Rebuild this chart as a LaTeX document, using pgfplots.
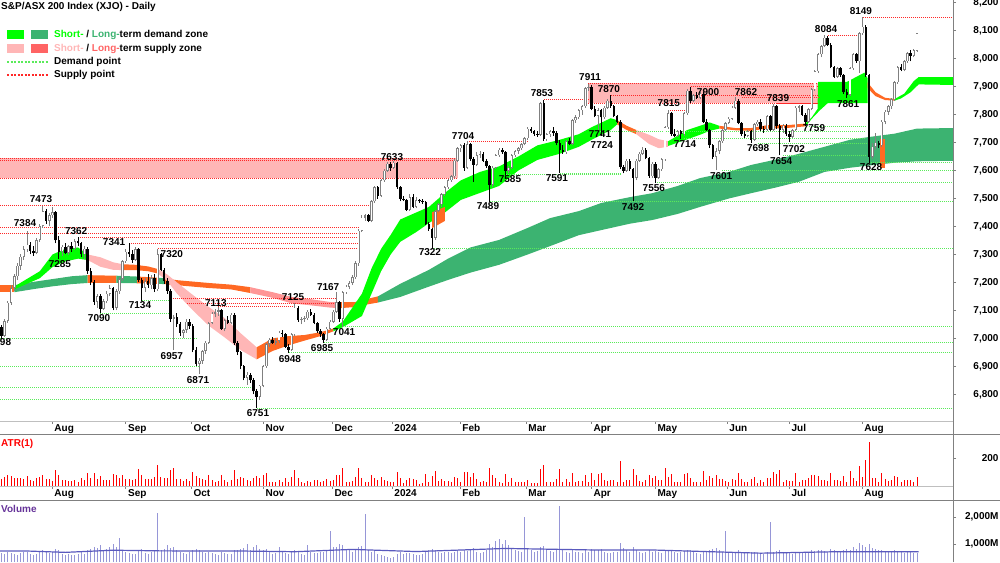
\documentclass[border=0pt]{standalone}
\usepackage{pgfplots}
\pgfplotsset{compat=1.18}
\usepackage{pgfplotstable}
\usepackage{fontspec}
\setmainfont{Liberation Sans}
\definecolor{stLime}{RGB}{0,255,0}
\definecolor{ltGreen}{RGB}{60,179,113}
\definecolor{stPink}{RGB}{255,182,182}
\definecolor{ltRed}{RGB}{255,100,100}
\definecolor{bOrange}{RGB}{255,105,35}
\definecolor{bSalmon}{RGB}{255,150,150}
\definecolor{dLine}{RGB}{90,235,90}
\definecolor{sLine}{RGB}{255,40,40}
\definecolor{upGray}{RGB}{128,128,128}
\definecolor{volBar}{RGB}{150,150,215}
\definecolor{volAvg}{RGB}{90,90,190}
\definecolor{volText}{RGB}{102,51,153}

\pgfplotstableread{
i O H L C V
0 7040 7048 6998 7008 650
1 7010 7070 7005 7062 620
2 7062 7135 7055 7128 700
3 7128 7190 7120 7180 680
4 7180 7230 7170 7222 640
5 7222 7268 7210 7260 600
6 7260 7300 7245 7292 660
7 7292 7330 7280 7318 710
8 7318 7384 7310 7335 690
9 7335 7345 7300 7312 620
10 7312 7330 7295 7305 580
11 7305 7360 7300 7352 640
12 7352 7410 7345 7402 720
13 7402 7473 7395 7455 760
14 7455 7462 7410 7420 700
15 7420 7448 7400 7440 650
16 7440 7468 7430 7450 720
17 7450 7455 7340 7350 800
18 7350 7365 7285 7310 760
19 7310 7335 7295 7328 640
20 7328 7340 7300 7305 600
21 7305 7335 7298 7330 620
22 7330 7345 7310 7320 580
23 7320 7355 7315 7348 600
24 7348 7362 7330 7340 640
25 7340 7345 7290 7300 700
26 7300 7330 7285 7320 620
27 7320 7325 7230 7240 780
28 7240 7250 7190 7200 820
29 7200 7210 7120 7130 900
30 7130 7160 7110 7150 850
31 7150 7160 7090 7105 960
32 7105 7140 7100 7132 780
33 7132 7170 7125 7160 820
34 7160 7190 7150 7180 900
35 7180 7185 7100 7110 1000
36 7110 7175 7100 7168 880
37 7168 7220 7160 7212 1220
38 7212 7280 7205 7275 760
39 7275 7320 7270 7310 700
40 7310 7341 7290 7300 680
41 7300 7315 7270 7280 640
42 7280 7325 7275 7318 620
43 7318 7322 7200 7210 740
44 7210 7215 7134 7180 800
45 7180 7215 7165 7205 660
46 7205 7230 7180 7190 620
47 7190 7225 7175 7215 700
48 7215 7230 7165 7175 760
49 7175 7320 7170 7300 2150
50 7300 7305 7240 7245 780
51 7245 7250 7195 7205 800
52 7205 7215 7160 7170 960
53 7170 7175 7060 7070 860
54 7070 7085 6957 7075 900
55 7075 7090 7040 7050 780
56 7050 7060 7010 7020 700
57 7020 7035 7000 7030 660
58 7030 7070 7020 7060 640
59 7060 7070 7035 7045 700
60 7045 7050 6950 6960 780
61 6960 6970 6900 6910 820
62 6910 6930 6871 6920 760
63 6920 6960 6910 6955 700
64 6955 6990 6945 6985 660
65 6985 7060 6980 7055 720
66 7055 7095 7050 7088 680
67 7088 7105 7075 7095 640
68 7095 7113 7080 7100 600
69 7100 7105 7030 7035 700
70 7035 7070 7025 7065 660
71 7065 7080 7050 7055 620
72 7055 7090 7050 7085 640
73 7085 7090 6975 6985 780
74 6985 6990 6940 6950 760
75 6950 6955 6890 6900 800
76 6900 6905 6850 6860 840
77 6860 6880 6835 6870 1000
78 6870 6875 6840 6850 760
79 6850 6860 6800 6810 880
80 6810 6820 6751 6790 980
81 6790 6835 6780 6830 820
82 6830 6905 6825 6900 760
83 6900 6985 6895 6980 820
84 6980 7000 6970 6995 700
85 6995 7005 6980 6985 640
86 6985 7000 6975 6992 660
87 6992 7025 6985 7020 900
88 7020 7030 7005 7015 700
89 7015 7020 6965 6970 660
90 6970 6980 6948 6960 620
91 6960 7020 6955 7015 700
92 7015 7125 7010 7110 780
93 7110 7115 7060 7065 720
94 7065 7075 7050 7068 640
95 7068 7080 7060 7072 600
96 7072 7100 7065 7095 960
97 7095 7105 7080 7085 700
98 7085 7090 7050 7055 660
99 7055 7060 7020 7025 680
100 7025 7035 7005 7015 700
101 7015 7020 6985 6995 720
102 6995 7040 6990 7035 760
103 7035 7065 7030 7060 1480
104 7060 7100 7055 7095 880
105 7095 7167 7090 7130 900
106 7130 7135 7060 7070 1000
107 7070 7170 7041 7165 980
108 7165 7190 7160 7185 820
109 7185 7205 7175 7198 760
110 7198 7225 7190 7218 700
111 7218 7275 7212 7268 800
112 7268 7390 7260 7385 880
113 7385 7440 7380 7432 920
114 7432 7445 7420 7440 2100
115 7440 7445 7415 7420 760
116 7420 7495 7415 7490 720
117 7490 7545 7485 7540 780
118 7540 7545 7500 7510 640
119 7510 7570 7505 7565 600
120 7565 7605 7560 7600 560
121 7600 7630 7595 7625 520
122 7625 7630 7600 7610 480
123 7610 7633 7605 7628 500
124 7628 7632 7535 7540 640
125 7540 7545 7490 7500 700
126 7500 7510 7490 7495 620
127 7495 7500 7455 7460 680
128 7460 7515 7455 7505 660
129 7505 7515 7465 7470 640
130 7470 7505 7465 7495 600
131 7495 7500 7485 7490 580
132 7490 7500 7480 7488 620
133 7488 7490 7405 7410 720
134 7410 7415 7385 7390 760
135 7390 7395 7322 7360 820
136 7360 7460 7352 7455 780
137 7455 7485 7450 7480 700
138 7480 7520 7470 7515 680
139 7515 7545 7510 7540 720
140 7540 7570 7535 7565 700
141 7565 7585 7560 7580 660
142 7580 7640 7575 7635 700
143 7635 7685 7630 7680 760
144 7680 7695 7665 7690 720
145 7690 7700 7600 7610 780
146 7610 7704 7605 7695 740
147 7695 7700 7635 7640 800
148 7640 7650 7560 7620 860
149 7620 7665 7615 7655 700
150 7655 7670 7645 7660 680
151 7660 7665 7630 7635 720
152 7635 7640 7610 7615 760
153 7615 7620 7489 7550 1000
154 7550 7615 7540 7610 900
155 7610 7660 7605 7655 1100
156 7655 7680 7650 7675 1200
157 7675 7680 7660 7665 1000
158 7665 7670 7585 7600 1150
159 7600 7615 7590 7610 980
160 7610 7660 7605 7655 820
161 7655 7675 7650 7670 760
162 7670 7685 7660 7680 740
163 7680 7700 7675 7695 720
164 7695 7720 7690 7715 2000
165 7715 7755 7710 7750 800
166 7750 7755 7735 7740 760
167 7740 7745 7725 7730 720
168 7730 7740 7720 7728 740
169 7728 7845 7725 7840 880
170 7840 7853 7705 7712 920
171 7712 7735 7705 7730 780
172 7730 7745 7720 7740 740
173 7740 7755 7725 7735 720
174 7735 7740 7690 7700 780
175 7700 7710 7591 7675 2400
176 7675 7690 7660 7665 760
177 7665 7710 7660 7705 700
178 7705 7715 7690 7695 680
179 7695 7785 7690 7780 760
180 7780 7800 7770 7790 720
181 7790 7820 7785 7815 700
182 7815 7835 7800 7830 680
183 7830 7900 7825 7895 760
184 7895 7911 7885 7900 720
185 7900 7905 7815 7820 800
186 7820 7830 7790 7795 760
187 7795 7825 7741 7815 780
188 7815 7820 7724 7790 820
189 7790 7830 7785 7825 700
190 7825 7855 7820 7850 680
191 7850 7870 7825 7830 660
192 7830 7835 7790 7795 700
193 7795 7800 7770 7775 720
194 7775 7780 7605 7612 1030
195 7612 7620 7590 7600 860
196 7600 7640 7595 7635 760
197 7635 7640 7600 7605 720
198 7605 7610 7492 7575 880
199 7575 7640 7565 7635 780
200 7635 7665 7630 7660 700
201 7660 7685 7655 7675 680
202 7675 7680 7640 7645 700
203 7645 7650 7575 7580 760
204 7580 7630 7575 7625 720
205 7625 7630 7556 7575 740
206 7575 7610 7570 7605 700
207 7605 7645 7600 7640 680
208 7640 7760 7635 7755 760
209 7755 7815 7750 7805 740
210 7805 7810 7725 7730 780
211 7730 7750 7720 7725 720
212 7725 7745 7720 7740 680
213 7740 7745 7714 7730 700
214 7730 7810 7725 7805 740
215 7805 7890 7800 7885 760
216 7885 7900 7840 7850 780
217 7850 7875 7845 7870 700
218 7870 7880 7855 7860 660
219 7860 7880 7855 7875 640
220 7875 7880 7770 7775 720
221 7775 7785 7740 7745 740
222 7745 7750 7680 7690 780
223 7690 7695 7640 7650 800
224 7650 7680 7601 7670 860
225 7670 7710 7660 7705 760
226 7705 7750 7700 7745 720
227 7745 7775 7740 7770 1480
228 7770 7790 7765 7785 700
229 7785 7830 7780 7825 680
230 7825 7862 7820 7850 700
231 7850 7855 7765 7770 760
232 7770 7775 7725 7730 720
233 7730 7740 7715 7725 680
234 7725 7745 7720 7740 660
235 7740 7745 7698 7710 700
236 7710 7770 7705 7765 720
237 7765 7780 7760 7775 680
238 7775 7785 7740 7750 660
239 7750 7760 7735 7745 640
240 7745 7800 7740 7795 700
241 7795 7800 7740 7745 1800
242 7745 7839 7740 7830 720
243 7830 7835 7750 7760 740
244 7760 7765 7654 7745 780
245 7745 7765 7735 7760 700
246 7760 7765 7725 7730 680
247 7730 7740 7702 7720 660
248 7720 7750 7715 7745 640
249 7745 7830 7740 7825 700
250 7825 7835 7810 7830 680
251 7830 7835 7795 7800 660
252 7800 7805 7759 7775 700
253 7775 7825 7770 7820 720
254 7820 7895 7815 7890 760
255 7890 7960 7885 7955 740
256 7955 8020 7950 8015 780
257 8015 8050 8005 8045 760
258 8045 8084 8040 8075 740
259 8075 8080 8045 8050 720
260 8050 8055 7965 7970 800
261 7970 7975 7930 7935 760
262 7935 7970 7930 7965 720
263 7965 7970 7935 7940 740
264 7940 7945 7875 7880 780
265 7880 7890 7861 7870 800
266 7870 7970 7865 7965 760
267 7965 8020 7960 8015 900
268 8015 8020 7985 7990 820
269 7990 8095 7950 8090 1040
270 8090 8149 8085 8115 960
271 8115 8120 7935 7943 900
272 7943 7945 7628 7650 1000
273 7650 7700 7640 7685 860
274 7685 7735 7675 7700 820
275 7700 7705 7680 7690 760
276 7690 7780 7685 7775 780
277 7775 7815 7765 7810 740
278 7810 7835 7800 7830 720
279 7830 7860 7820 7855 700
280 7855 7920 7850 7915 760
281 7915 7975 7910 7970 740
282 7970 7980 7955 7960 700
283 7960 7995 7955 7990 680
284 7990 8025 7985 8020 720
285 8020 8030 7990 8010 700
286 8010 8035 8005 8030 680
287 8028 8092 8025 8090 660
}\data

\newcommand{\lblfont}{\bfseries\fontsize{10}{12}\selectfont}

\begin{document}
\begin{tikzpicture}
\useasboundingbox (0pt,0pt) rectangle (1000pt,562pt);
\pgfplotsset{
  every axis/.append style={scale only axis, width=953pt, xmin=-0.47, xmax=298.28,
    axis line style={draw=none}, tick label style={font=\lblfont},
    tick align=outside, major tick length=3pt, tick style={upGray, line width=0.6pt},
    xtick pos=left, ytick pos=right, yticklabel pos=right,
    yticklabel style={anchor=east, xshift=46pt},
    xticklabel style={anchor=north west, xshift=-1pt, yshift=3pt}},
  mtick/.style={xtick={15.8,38.9,59.4,82,103.6,122.4,143.7,164.4,184.8,204.9,227.4,246.9,269.7},
    xticklabels={Aug,Sep,Oct,Nov,Dec,2024,Feb,Mar,Apr,May,Jun,Jul,Aug}},
  sup/.style={sLine, line width=0.9pt, dash pattern=on 1pt off 1pt, mark=none, forget plot},
  dem/.style={dLine, line width=0.9pt, dash pattern=on 1pt off 1pt, mark=none, forget plot},
  band/.style={draw=none, mark=none, forget plot},
}

% ---------------- main price panel ----------------
\begin{axis}[at={(0pt,141pt)}, anchor=south west, height=421pt, ymin=6704.5, ymax=8209.8, mtick,
  ytick={6800,6900,...,8200},
  yticklabels={{6,800},{6,900},{7,000},{7,100},{7,200},{7,300},{7,400},{7,500},{7,600},{7,700},{7,800},{7,900},{8,000},{8,100},{8,200}}]

% supply zones
\addplot[band, fill=stPink] coordinates {(-0.5,7573) (143,7573) (143,7644) (-0.5,7644)} -- cycle;
\addplot[band, fill=stPink] coordinates {(184,7841) (256,7841) (256,7912) (184,7912)} -- cycle;

% long-term band
\addplot[band, fill=bOrange] coordinates {(-0.5,7190) (4,7190) (4,7165) (-0.5,7165)} -- cycle;
\addplot[band, fill=ltGreen] coordinates {(4,7190) (10,7202) (16,7212) (22,7222) (27,7226) (27,7198) (22,7194) (16,7186) (10,7176) (4,7165)} -- cycle;
\addplot[band, fill=bOrange] coordinates {(27,7226) (31,7225) (36,7224) (36,7198) (31,7198) (27,7198)} -- cycle;
\addplot[band, fill=ltGreen] coordinates {(36,7224) (42.5,7221) (42.5,7197) (36,7198)} -- cycle;
\addplot[band, fill=bOrange] coordinates {(42.5,7221) (49,7217) (49,7195) (42.5,7197)} -- cycle;
\addplot[band, fill=ltGreen] coordinates {(49,7217) (51,7215) (51,7194) (49,7195)} -- cycle;
\addplot[band, fill=bOrange] coordinates {(51,7215) (55,7208) (65,7198) (72,7192) (78,7183) (78,7162) (72,7175) (65,7180) (55,7190) (51,7194)} -- cycle;
\addplot[band, fill=bSalmon] coordinates {(78,7183) (85,7165) (91,7148) (97,7140) (103,7130) (106,7129) (106,7108) (103,7110) (97,7118) (91,7125) (85,7145) (78,7162)} -- cycle;
\addplot[band, fill=bOrange] coordinates {(106,7129) (111,7130) (115,7142) (118,7150) (118,7128) (115,7122) (111,7112) (106,7108)} -- cycle;
\addplot[band, fill=ltGreen] coordinates {(118,7150) (125,7195) (134,7245) (140,7285) (147,7325) (156,7352) (165,7395) (172,7430) (181,7455) (188,7484) (197,7505) (204,7519) (212,7545) (219,7573) (228,7595) (235,7620) (243,7640) (250,7660) (258,7685) (266,7710) (272,7720) (280,7732) (287,7750) (298.3,7752)
  (298.3,7635) (287,7633) (280,7628) (272,7618) (266,7610) (258,7595) (250,7560) (243,7540) (235,7519) (228,7500) (219,7470) (212,7445) (204,7423) (197,7410) (188,7387) (181,7369) (172,7330) (165,7300) (156,7263) (147,7235) (140,7209) (134,7185) (125,7148) (118,7128)} -- cycle;
\addplot[band, fill=bOrange] coordinates {(275.5,7712) (277,7712) (277,7610) (275.5,7610)} -- cycle;

% short-term band
\addplot[band, fill=stLime] coordinates {(4,7185) (12,7240) (16,7300) (20,7320) (24,7325) (27,7300) (27,7280) (24,7285) (20,7275) (16,7255) (12,7215) (4,7175)} -- cycle;
\addplot[band, fill=stPink] coordinates {(27,7300) (31,7290) (35,7272) (38,7265) (38,7244) (35,7245) (31,7256) (27,7280)} -- cycle;
\addplot[band, fill=bOrange] coordinates {(38,7265) (42,7263) (46,7257) (49,7248) (49,7232) (46,7240) (42,7244) (38,7244)} -- cycle;
\addplot[band, fill=stPink] coordinates {(49,7248) (52,7228) (55,7200) (60,7155) (65,7112) (70,7072) (75,7018) (80,6968) (80,6925) (75,6958) (70,7003) (65,7045) (60,7100) (55,7160) (52,7205) (49,7232)} -- cycle;
\addplot[band, fill=bOrange] coordinates {(80,6968) (85,7000) (90,7008) (95,7012) (100,7022) (104,7035) (104,7025) (100,7008) (95,6992) (90,6975) (85,6955) (80,6925)} -- cycle;
\addplot[band, fill=stLime] coordinates {(104,7035) (107,7060) (110,7110) (113,7160) (116,7250) (119,7320) (122,7370) (125,7425) (130,7450) (134,7470) (139,7520) (144,7565) (150,7595) (156,7615) (162,7650) (168,7690) (175,7710) (181,7730) (185,7755) (191,7787) (193,7780)
  (193,7765) (191,7745) (185,7710) (181,7685) (175,7660) (168,7638) (162,7600) (156,7545) (150,7520) (144,7495) (139,7450) (134,7412) (130,7380) (125,7345) (122,7300) (119,7240) (116,7160) (113,7080) (110,7060) (107,7040) (104,7025)} -- cycle;
\addplot[band, fill=bOrange] coordinates {(135,7451) (139,7470) (139,7420) (135,7394)} -- cycle;
\addplot[band, fill=bOrange] coordinates {(193,7780) (196,7760) (199,7745) (199,7730) (196,7745) (193,7765)} -- cycle;
\addplot[band, fill=stPink] coordinates {(199,7745) (203,7728) (206,7712) (209,7705) (209,7685) (206,7680) (203,7695) (199,7730)} -- cycle;
\addplot[band, fill=stLime] coordinates {(209,7705) (212,7725) (215,7745) (219,7760) (222,7772) (225,7760) (225,7750) (222,7742) (219,7728) (215,7712) (212,7700) (209,7688)} -- cycle;
\addplot[band, fill=bOrange] coordinates {(225,7760) (230,7752) (235,7752) (240,7762) (246,7762) (252,7768) (252,7758) (246,7752) (240,7750) (235,7742) (230,7744) (225,7750)} -- cycle;
\addplot[band, fill=stLime] coordinates {(252,7768) (254,7790) (255.8,7820) (256,7917) (265,7917) (268,7935) (270.5,7950) (271.5,7930) (271.5,7841) (259,7841) (256.5,7815) (254,7785) (252,7758)} -- cycle;
\addplot[band, fill=bOrange] coordinates {(271.5,7915) (274,7880) (277,7860) (280,7856) (280,7850) (277,7852) (274,7866) (271.5,7895)} -- cycle;
\addplot[band, fill=stLime] coordinates {(280,7856) (283,7875) (286,7920) (287.5,7934) (298.3,7934) (298.3,7906) (287.5,7908) (285,7880) (282,7858) (280,7850)} -- cycle;

% supply points
\addplot[sup] coordinates {(-0.5,7644) (143,7644)};
\addplot[sup] coordinates {(-0.5,7637) (143,7637)};
\addplot[sup] coordinates {(-0.5,7573) (143,7573)};
\addplot[sup] coordinates {(-0.5,7476) (115,7476)};
\addplot[sup] coordinates {(-0.5,7397) (112,7397)};
\addplot[sup] coordinates {(-0.5,7374) (112,7374)};
\addplot[sup] coordinates {(24,7362) (112,7362)};
\addplot[sup] coordinates {(40,7341) (112,7341)};
\addplot[sup] coordinates {(49,7320) (112,7320)};
\addplot[sup] coordinates {(53,7144) (105,7144)};
\addplot[sup] coordinates {(58,7126) (105,7126)};
\addplot[sup] coordinates {(68,7113) (92,7113)};
\addplot[sup] coordinates {(146,7704) (165,7704)};
\addplot[sup] coordinates {(170,7853) (184,7853)};
\addplot[sup] coordinates {(184,7911) (256,7911)};
\addplot[sup] coordinates {(191,7870) (256,7870)};
\addplot[sup] coordinates {(216,7900) (256,7900)};
\addplot[sup] coordinates {(232,7862) (256,7862)};
\addplot[sup] coordinates {(243,7839) (256,7839)};
\addplot[sup] coordinates {(209,7815) (215,7815)};
\addplot[sup] coordinates {(184,7841) (256,7841)};
\addplot[sup] coordinates {(259,8084) (269,8084)};
\addplot[sup] coordinates {(270,8149) (298.3,8149)};

% demand points
\addplot[dem] coordinates {(-0.5,7000) (61,7000)};
\addplot[dem] coordinates {(-0.5,6899) (62,6899)};
\addplot[dem] coordinates {(-0.5,6826) (78,6826)};
\addplot[dem] coordinates {(-0.5,6780) (79,6780)};
\addplot[dem] coordinates {(31,7090) (53,7090)};
\addplot[dem] coordinates {(44,7134) (53,7134)};
\addplot[dem] coordinates {(80,6751) (298.3,6751)};
\addplot[dem] coordinates {(90,6948) (298.3,6948)};
\addplot[dem] coordinates {(101,6985) (298.3,6985)};
\addplot[dem] coordinates {(107,7041) (298.3,7041)};
\addplot[dem] coordinates {(135,7322) (298.3,7322)};
\addplot[dem] coordinates {(153,7489) (298.3,7489)};
\addplot[dem] coordinates {(158,7585) (194,7585)};
\addplot[dem] coordinates {(175,7591) (194,7591)};
\addplot[dem] coordinates {(205,7556) (298.3,7556)};
\addplot[dem] coordinates {(187,7741) (271,7741)};
\addplot[dem] coordinates {(214,7714) (271,7714)};
\addplot[dem] coordinates {(237,7698) (271,7698)};
\addplot[dem] coordinates {(226,7601) (298.3,7601)};
\addplot[dem] coordinates {(245,7654) (271,7654)};
\addplot[dem] coordinates {(253,7759) (271,7759)};
\addplot[dem] coordinates {(272,7628) (298.3,7628)};

% candles: wicks
\addplot[draw=none, mark=none, forget plot, error bars/.cd, y dir=plus, y explicit, error mark=none,
  error bar style={draw=upGray, line width=1pt}]
  table[x=i, y expr={\thisrow{C}>=\thisrow{O} ? \thisrow{L} : nan}, y error plus expr={\thisrow{H}-\thisrow{L}}] {\data};
\addplot[draw=none, mark=none, forget plot, error bars/.cd, y dir=plus, y explicit, error mark=none,
  error bar style={draw=black, line width=1pt}]
  table[x=i, y expr={\thisrow{C}<\thisrow{O} ? \thisrow{L} : nan}, y error plus expr={\thisrow{H}-\thisrow{L}}] {\data};
% up bodies (hollow)
\addplot[draw=none, mark=none, forget plot, error bars/.cd, y dir=plus, y explicit, error mark=none,
  error bar style={draw=upGray, line width=2.5pt}]
  table[x=i, y expr={\thisrow{C}>=\thisrow{O} ? \thisrow{O} : nan}, y error plus expr={\thisrow{C}-\thisrow{O}}] {\data};
\addplot[draw=none, mark=none, forget plot, error bars/.cd, y dir=plus, y explicit, error mark=none,
  error bar style={draw=white, line width=1.1pt, shorten <=0.6pt, shorten >=0.6pt}]
  table[x=i, y expr={\thisrow{C}-\thisrow{O}>8 ? \thisrow{O} : nan}, y error plus expr={\thisrow{C}-\thisrow{O}}] {\data};
% down bodies
\addplot[draw=none, mark=none, forget plot, error bars/.cd, y dir=plus, y explicit, error mark=none,
  error bar style={draw=black, line width=2.5pt}]
  table[x=i, y expr={\thisrow{C}<\thisrow{O} ? \thisrow{C} : nan}, y error plus expr={\thisrow{O}-\thisrow{C}}] {\data};

% pivot labels
\begin{scope}[every node/.style={font=\lblfont, inner sep=0pt}]
\node at (axis cs:-0.47,6987) {6998};
\node at (axis cs:7.37,7412) {7384};
\node at (axis cs:12.4,7498) {7473};
\node at (axis cs:23.4,7384) {7362};
\node at (axis cs:18.3,7266) {7285};
\node at (axis cs:35.3,7345) {7341};
\node at (axis cs:53.4,7302) {7320};
\node at (axis cs:30.6,7073) {7090};
\node at (axis cs:43.4,7119) {7134};
\node at (axis cs:53.4,6937) {6957};
\node at (axis cs:61.6,6851) {6871};
\node at (axis cs:67.2,7126) {7113};
\node at (axis cs:80.4,6733) {6751};
\node at (axis cs:90.4,6926) {6948};
\node at (axis cs:91.4,7148) {7125};
\node at (axis cs:100.5,6966) {6985};
\node at (axis cs:102.4,7184) {7167};
\node at (axis cs:107.4,7023) {7041};
\node at (axis cs:122.4,7648) {7633};
\node at (axis cs:134.3,7309) {7322};
\node at (axis cs:144.7,7724) {7704};
\node at (axis cs:152.5,7473) {7489};
\node at (axis cs:159.4,7570) {7585};
\node at (axis cs:169.4,7877) {7853};
\node at (axis cs:174.1,7573) {7591};
\node at (axis cs:184.5,7934) {7911};
\node at (axis cs:190.4,7892) {7870};
\node at (axis cs:187.6,7731) {7741};
\node at (axis cs:188.2,7691) {7724};
\node at (axis cs:198,7470) {7492};
\node at (axis cs:204.5,7538) {7556};
\node at (axis cs:209.2,7841) {7815};
\node at (axis cs:214.3,7695) {7714};
\node at (axis cs:221.5,7881) {7900};
\node at (axis cs:225.6,7580) {7601};
\node at (axis cs:233.4,7881) {7862};
\node at (axis cs:237.2,7681) {7698};
\node at (axis cs:243.4,7859) {7839};
\node at (axis cs:244.4,7634) {7654};
\node at (axis cs:248.4,7677) {7702};
\node at (axis cs:254.7,7752) {7759};
\node at (axis cs:258.5,8106) {8084};
\node at (axis cs:265.4,7838) {7861};
\node at (axis cs:269.4,8170) {8149};
\node at (axis cs:272.6,7613) {7628};
\end{scope}
\end{axis}

% ---------------- ATR panel ----------------
\begin{axis}[at={(0pt,76pt)}, anchor=south west, height=51pt, ymin=0, ymax=364, mtick,
  ytick={200}, yticklabels={200}]
\addplot[ycomb, draw=red, line width=1pt, mark=none] table[x=i, y expr={\thisrow{H}-\thisrow{L}}] {\data};
\end{axis}

% ---------------- Volume panel ----------------
\begin{axis}[at={(0pt,0pt)}, anchor=south west, height=62pt, ymin=333, ymax=2630, xtick=\empty,
  ytick={1000,2000}, yticklabels={{1,000M},{2,000M}}]
\addplot[ycomb, draw=volBar, line width=1pt, mark=none] table[x=i, y=V] {\data};
\addplot[volAvg, line width=1.2pt, mark=none] coordinates {(-0.5,740) (8,740) (20,690) (35,770) (50,745) (75,740) (92,714) (110,800) (130,720) (158,835) (185,780) (205,775) (222,715) (238,660) (260,710) (287.5,715)};
\end{axis}

% ---------------- frame lines ----------------
\draw[upGray, line width=0.8pt] (953pt,0pt) -- (953pt,562pt);
\draw[gray!50, line width=0.8pt] (0pt,141pt) -- (953pt,141pt);
\draw[gray, line width=1pt] (0pt,127pt) -- (1000pt,127pt);
\draw[gray!50, line width=0.8pt] (0pt,76pt) -- (953pt,76pt);
\draw[gray, line width=1pt] (0pt,62pt) -- (1000pt,62pt);

% ---------------- titles and legend ----------------
\begin{scope}[every node/.style={font=\lblfont, inner sep=0pt, anchor=west}]
\node at (1pt,555pt) {S\&P/ASX 200 Index (XJO) - Daily};
\fill[stLime] (7pt,523pt) rectangle (24pt,532pt);
\fill[ltGreen] (31pt,523pt) rectangle (48pt,532pt);
\node at (54pt,527.5pt) {{\color{stLime}Short-} / {\color{ltGreen}Long-}term demand zone};
\fill[stPink] (7pt,509pt) rectangle (24pt,518pt);
\fill[ltRed] (31pt,509pt) rectangle (48pt,518pt);
\node at (54pt,513.5pt) {{\color{stPink}Short-} / {\color{ltRed}Long-}term supply zone};
\draw[dLine, line width=2pt, dash pattern=on 2pt off 1.5pt] (7pt,500pt) -- (48pt,500pt);
\node at (54pt,500pt) {Demand point};
\draw[sLine, line width=2pt, dash pattern=on 2pt off 1.5pt] (7pt,487pt) -- (48pt,487pt);
\node at (54pt,487pt) {Supply point};
\node[text=red] at (1pt,118pt) {ATR(1)};
\node[text=volText] at (1pt,53pt) {Volume};
\end{scope}
\end{tikzpicture}
\end{document}
